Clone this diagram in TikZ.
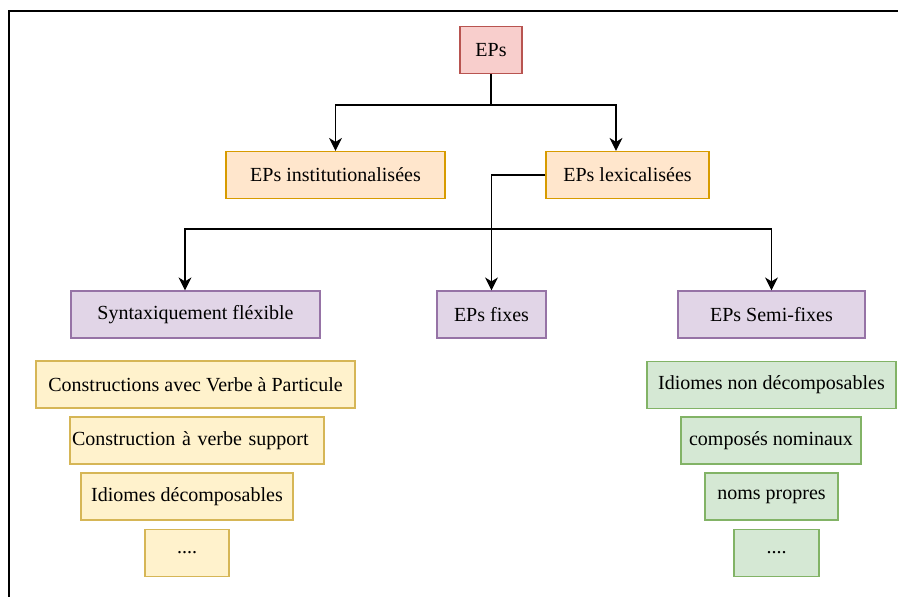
\documentclass[tikz,border=0pt]{standalone}
\usepackage{fontspec}
\setmainfont{Liberation Serif}
\usetikzlibrary{arrows.meta}
\definecolor{redfill}{HTML}{F8CECC}
\definecolor{reddraw}{HTML}{B85450}
\definecolor{orangefill}{HTML}{FFE6CC}
\definecolor{orangedraw}{HTML}{D79B00}
\definecolor{purplefill}{HTML}{E1D5E7}
\definecolor{purpledraw}{HTML}{9673A6}
\definecolor{yellowfill}{HTML}{FFF2CC}
\definecolor{yellowdraw}{HTML}{D6B656}
\definecolor{greenfill}{HTML}{D5E8D4}
\definecolor{greendraw}{HTML}{82B366}
\tikzset{
	box/.style={draw, line width=1.2pt, inner sep=0pt, minimum height=47pt, font=\fontsize{20}{24}\selectfont},
	rootbox/.style={box, fill=redfill, draw=reddraw},
	catbox/.style={box, fill=orangefill, draw=orangedraw},
	typebox/.style={box, fill=purplefill, draw=purpledraw},
	flexbox/.style={box, fill=yellowfill, draw=yellowdraw},
	semibox/.style={box, fill=greenfill, draw=greendraw},
	arr/.style={line width=1.3pt, -{Stealth[length=13pt,width=13pt,inset=4pt]}}
}
\begin{document}
\begin{tikzpicture}[x=1pt, y=-1pt]
		\useasboundingbox (0,0) rectangle (898,597);
		\draw[line width=1.6pt] (9,597) -- (9,11) -- (898,11);
		
		\node[rootbox, minimum width=62pt] (eps) at (491,50) {EPs};
		\node[catbox, minimum width=219pt] (inst) at (335.5,175) {EPs institutionalisées};
		\node[catbox, minimum width=163pt] (lex) at (627.5,175) {EPs lexicalisées};
		
		\node[typebox, minimum width=249pt] (synt) at (195.5,314.5) {Syntaxiquement fléxible};
		\node[typebox, minimum width=109pt] (fixes) at (491.5,314.5) {EPs fixes};
		\node[typebox, minimum width=187pt] (semi) at (771.5,314.5) {EPs Semi-fixes};
		
		\node[flexbox, minimum width=319pt] (cvp) at (195.5,384.5) {Constructions avec Verbe à Particule};
		\node[flexbox, text width=250pt, inner xsep=2pt, align=left] (cvs) at (197,440.5) {Construction à verbe support};
		\node[flexbox, minimum width=212pt] (idec) at (187,496.5) {Idiomes décomposables};
		\node[flexbox, minimum width=84pt] (fdots) at (187,553) {....};
		
		\node[semibox, minimum width=249pt] (indec) at (771.5,385) {Idiomes non décomposables};
		\node[semibox, minimum width=180pt] (cnom) at (771,440.5) {composés nominaux};
		\node[semibox, minimum width=133pt] (npro) at (771.5,496.5) {noms propres};
		\node[semibox, minimum width=85pt] (sdots) at (776.5,553) {....};
		
		\coordinate (top) at (491,105);
		\coordinate (mid) at (491,229);
		\draw[arr] (eps.south) -- (top) -| (inst.north);
		\draw[arr] (top) -| ([xshift=-11.5pt]lex.north);
		\draw[arr] (lex.west) -| (fixes.north);
		\draw[arr] (mid) -| ([xshift=-10.5pt]synt.north);
		\draw[arr] (mid) -| (semi.north);
	\end{tikzpicture}
\end{document}
